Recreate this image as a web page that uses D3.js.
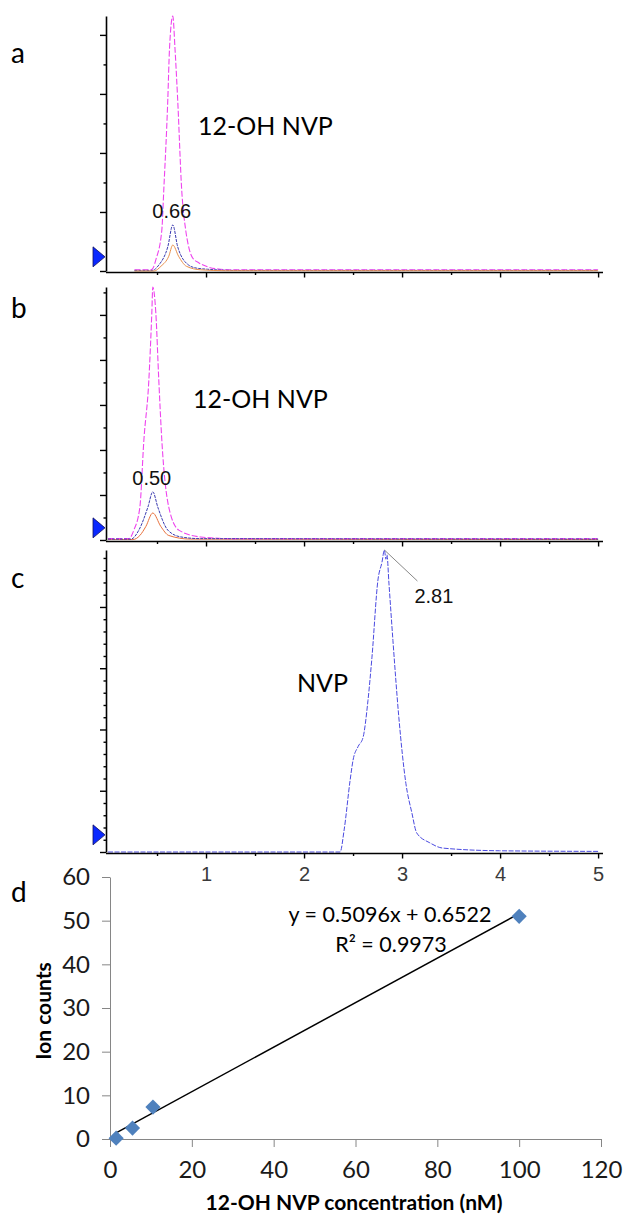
<!DOCTYPE html>
<html>
<head>
<meta charset="utf-8">
<script src="https://cdn.jsdelivr.net/npm/d3@7"></script>
<style>
body { margin: 0; background: #fff; }
svg { display: block; }
</style>
</head>
<body>
<svg width="623" height="1222"></svg>
<script>
// retention time (min) / intensity (1 unit = one major y tick)
let pinkA = [[0.27,0.02],[0.44,0.02],[0.46,0.05],[0.488,0.19],[0.549,0.69],[0.569,1.37],[0.61,2.9],[0.627,3.75],
    [0.661,4.32],[0.684,3.75],[0.711,2.9],[0.752,1.37],[0.793,0.69],[0.823,0.41],[0.864,0.22],[0.925,0.14],
    [1.016,0.07],[1.148,0.03],[1.28,0.02],[2.5,0.02],[5.0,0.02]];
let blueA = [[0.27,0.01],[0.45,0.01],[0.518,0.1],[0.61,0.41],[0.661,0.78],[0.711,0.41],[0.823,0.1],
    [0.9,0.05],[1.016,0.03],[1.3,0.01],[5.0,0.01]];
let orangeA = [[0.27,0.0],[0.47,0.0],[0.54,0.08],[0.62,0.25],[0.661,0.44],[0.72,0.25],[0.80,0.08],
    [0.945,0.02],[1.2,0.005],[5.0,0.005]];

let pinkB = [[0.0,0.03],[0.213,0.03],[0.264,0.22],[0.325,0.73],[0.366,2.22],[0.417,3.56],[0.447,5.04],
    [0.457,5.62],[0.488,5.04],[0.518,3.56],[0.549,2.22],[0.62,0.73],[0.722,0.22],[0.945,0.067],[1.28,0.03],[5.0,0.03]];
let blueB = [[0.0,0.02],[0.234,0.02],[0.315,0.22],[0.407,0.73],[0.457,1.07],[0.508,0.73],[0.61,0.22],
    [0.74,0.07],[0.945,0.03],[5.0,0.02]];
let orangeB = [[0.0,0.01],[0.254,0.01],[0.325,0.1],[0.386,0.3],[0.457,0.6],[0.539,0.3],[0.62,0.1],
    [0.84,0.02],[5.0,0.01]];

let blueC = [[0.0,0.0],[2.368,0.0],[2.409,0.36],[2.470,1.17],[2.500,1.50],[2.551,1.72],[2.602,1.87],
    [2.652,2.47],[2.693,3.18],[2.754,4.44],[2.795,4.73],[2.82,4.93],[2.835,4.78],[2.846,4.85],[2.866,4.39],
    [2.907,3.45],[2.967,2.20],[3.039,1.12],[3.100,0.64],[3.150,0.31],[3.283,0.15],[3.415,0.064],
    [3.994,0.02],[5.0,0.01]];

let timeTicks = [1, 2, 3, 4, 5];

// calibration (panel d)
let concX = [1.5, 5.5, 10.5, 100];
let ionY = [0.2, 2.5, 7.3, 51];
let fitCoef = [0.5096, 0.6522];
let concTicks = [0, 20, 40, 60, 80, 100, 120];
let ionTicks = [0, 10, 20, 30, 40, 50, 60];

var svg = d3.select('svg');
svg.append('rect').attr('width', 623).attr('height', 1222).attr('fill', '#fff');

let x = d3.scaleLinear().domain([0, 5.05]).range([108, 603]);

let panels = [
    {id: 'a', top: 16, base: 271, ymax: 4.32, minor: 0.5, marker: 0.24,
     peakLabel: '0.66', peakT: 0.661, peakV: 0.78, name: '12-OH NVP',
     traces: [[pinkA, '#ee44ee', '6,2', 1.1], [blueA, '#3a3ab0', '3,1', 1], [orangeA, '#e8904c', null, 1]]},
    {id: 'b', top: 287, base: 540, ymax: 5.62, minor: 0.5, marker: 0.27,
     peakLabel: '0.50', peakT: 0.457, peakV: 1.07, name: '12-OH NVP',
     traces: [[orangeB, '#e8703c', null, 1], [pinkB, '#ee44ee', '6,2', 1.1], [blueB, '#3a3ab0', '3,1', 1]]},
    {id: 'c', top: 550, base: 852, ymax: 4.93, minor: 0.2, marker: 0.28,
     name: 'NVP', traces: [[blueC, '#4a4ae0', '5,1.5', 1]]}
];

panels.forEach(function(p) {
    let y = d3.scaleLinear().domain([0, p.ymax]).range([p.base, p.top]);
    let g = svg.append('g');

    let line = d3.line()
        .x(d => x(d[0]))
        .y(d => y(d[1]))
        .curve(d3.curveMonotoneX);

    p.traces.forEach(function(t) {
        g.append('path')
            .attr('d', line(t[0]))
            .attr('fill', 'none')
            .attr('stroke', t[1])
            .attr('stroke-width', t[3])
            .attr('stroke-dasharray', t[2]);
    });

    // y axis: major + minor ticks, no labels
    let majors = d3.range(0, Math.floor(p.ymax) + 1);
    let minors = d3.range(0, p.ymax, p.minor).filter(v => Math.abs(v - Math.round(v)) > 1e-6);
    g.append('g')
        .attr('transform', 'translate(106,0)')
        .call(d3.axisLeft(y).tickValues(majors).tickSize(6).tickSizeOuter(0).tickFormat(''))
        .call(s => s.select('.domain').attr('stroke-width', 1.6));
    g.append('g')
        .attr('transform', 'translate(106,0)')
        .call(d3.axisLeft(y).tickValues(minors).tickSize(2.5).tickFormat(''))
        .call(s => s.select('.domain').remove());

    // x axis
    let xa = g.append('g')
        .attr('transform', `translate(0,${p.base + 1.5})`)
        .call(d3.axisBottom(x).tickValues(timeTicks).tickSize(5).tickSizeOuter(0)
            .tickFormat(p.id == 'c' ? d3.format('d') : ''));
    xa.select('.domain').attr('d', `M106,0H${x(5.05)}`).attr('stroke-width', 1.6);
    xa.selectAll('text')
        .attr('font-family', 'Liberation Sans, Arial, sans-serif')
        .attr('font-size', 20)
        .attr('fill', '#3a3a3a')
        .attr('dy', '0.95em');
    g.append('g')
        .attr('transform', `translate(0,${p.base + 1.5})`)
        .call(d3.axisBottom(x).tickValues(timeTicks.map(v => v - 0.5)).tickSize(2.5).tickFormat(''))
        .call(s => s.select('.domain').remove());

    g.selectAll('.tick line').attr('stroke', '#000').attr('stroke-width', 1.4);

    // blue level marker at the left of the y axis
    let my = y(p.marker);
    g.append('path')
        .attr('d', `M93,${my - 10}L105,${my}L93,${my + 10}Z`)
        .attr('fill', '#0a28ff')
        .attr('stroke', '#101060')
        .attr('stroke-width', 0.8);

    // panel letter
    g.append('text')
        .attr('x', 11)
        .attr('y', p.id == 'a' ? 63 : p.id == 'b' ? 318 : 588)
        .attr('font-family', 'Lato, sans-serif')
        .attr('font-size', 28)
        .text(p.id);

    // compound name
    g.append('text')
        .attr('x', p.id == 'a' ? 198 : p.id == 'b' ? 193 : 297)
        .attr('y', p.id == 'a' ? 135 : p.id == 'b' ? 408 : 692)
        .attr('font-family', 'Lato, sans-serif')
        .attr('font-size', 25)
        .text(p.name);

    if (p.peakLabel) {
        g.append('text')
            .attr('x', x(p.peakT) - 1)
            .attr('y', y(p.peakV) - 7)
            .attr('text-anchor', 'middle')
            .attr('font-family', 'Liberation Sans, Arial, sans-serif')
            .attr('font-size', 20)
            .attr('fill', '#111')
            .text(p.peakLabel);
    } else {
        // leader line to apex
        g.append('line')
            .attr('x1', x(2.82)).attr('y1', y(4.93))
            .attr('x2', x(2.82) + 33).attr('y2', y(4.93) + 31)
            .attr('stroke', '#888').attr('stroke-width', 1);
        g.append('text')
            .attr('x', x(2.82) + 30)
            .attr('y', y(4.93) + 53)
            .attr('font-family', 'Liberation Sans, Arial, sans-serif')
            .attr('font-size', 20)
            .attr('fill', '#111')
            .text('2.81');
    }
});

// ---- panel d: calibration ----
let dx = d3.scaleLinear().domain([0, 120]).range([110, 601]);
let dy = d3.scaleLinear().domain([0, 60]).range([1139, 877]);
let dg = svg.append('g');

let yAx = dg.append('g')
    .attr('transform', 'translate(110,0)')
    .call(d3.axisLeft(dy).tickValues(ionTicks).tickSize(8).tickSizeOuter(0));
let xAx = dg.append('g')
    .attr('transform', 'translate(0,1139)')
    .call(d3.axisBottom(dx).tickValues(concTicks).tickSize(8).tickSizeOuter(0));
[yAx, xAx].forEach(function(a) {
    a.select('.domain').attr('stroke', '#868686');
    a.selectAll('.tick line').attr('stroke', '#868686');
    a.selectAll('text')
        .attr('font-family', 'Lato, sans-serif')
        .attr('font-size', 24)
        .attr('fill', '#1a1a1a');
});
yAx.selectAll('text').attr('x', -20);
xAx.selectAll('text').attr('y', 22);

let fit = d3.extent(concX).map(c => [c, fitCoef[0] * c + fitCoef[1]]);
dg.append('path')
    .attr('d', d3.line().x(d => dx(d[0])).y(d => dy(d[1]))(fit))
    .attr('stroke', '#000')
    .attr('stroke-width', 1.5);

dg.selectAll('.pt')
    .data(concX.map((c, i) => [c, ionY[i]]))
    .enter()
    .append('path')
    .attr('class', 'pt')
    .attr('d', d3.symbol().type(d3.symbolSquare).size(115))
    .attr('transform', d => `translate(${dx(d[0])},${dy(d[1])}) rotate(45)`)
    .attr('fill', '#4f81bd');

dg.append('text')
    .attr('x', 390).attr('y', 922)
    .attr('text-anchor', 'middle')
    .attr('font-family', 'Lato, sans-serif')
    .attr('font-size', 21.5)
    .text(`y = ${fitCoef[0]}x + ${fitCoef[1]}`);
dg.append('text')
    .attr('x', 391).attr('y', 952)
    .attr('text-anchor', 'middle')
    .attr('font-family', 'Lato, sans-serif')
    .attr('font-size', 21.5)
    .text('R² = 0.9973');

dg.append('text')
    .attr('transform', 'translate(51,1011) rotate(-90)')
    .attr('text-anchor', 'middle')
    .attr('font-family', 'Lato, sans-serif')
    .attr('font-weight', 'bold')
    .attr('font-size', 21)
    .text('Ion counts');
dg.append('text')
    .attr('x', 354).attr('y', 1210)
    .attr('text-anchor', 'middle')
    .attr('font-family', 'Lato, sans-serif')
    .attr('font-weight', 'bold')
    .attr('font-size', 21)
    .text('12-OH NVP concentration (nM)');

dg.append('text')
    .attr('x', 11).attr('y', 902)
    .attr('font-family', 'Lato, sans-serif')
    .attr('font-size', 28)
    .text('d');
</script>
</body>
</html>
